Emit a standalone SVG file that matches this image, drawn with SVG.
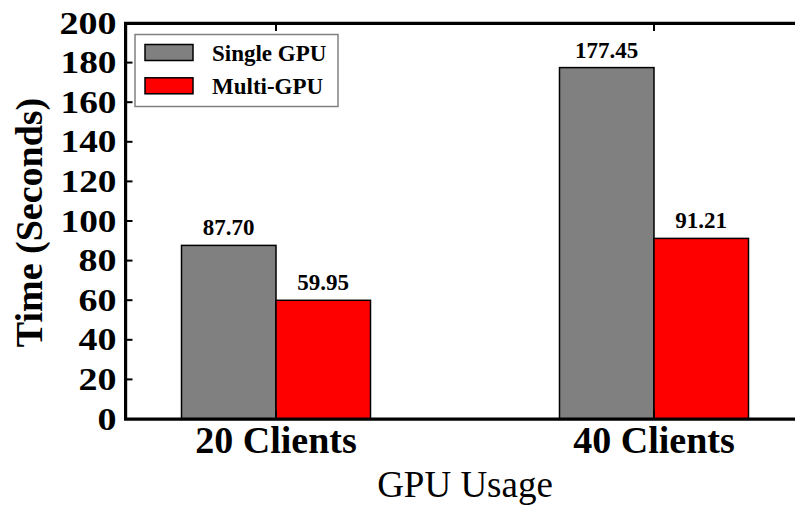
<svg xmlns="http://www.w3.org/2000/svg" width="795" height="507" viewBox="0 0 795 507">
  <style>
    .bold { font-family: "Liberation Serif", "Times New Roman", serif; font-weight: bold; fill: #000; }
    .reg { font-family: "Liberation Serif", "Times New Roman", serif; fill: #000; }
    .ytick { font-size: 30.5px; text-anchor: end; }
    .xtick { font-size: 38px; text-anchor: middle; }
    .val { font-size: 23px; text-anchor: middle; }
    .leg { font-size: 23px; }
    .single { fill: #808080; stroke: #000; stroke-width: 1.5; }
    .multi { fill: #ff0000; stroke: #000; stroke-width: 1.5; }
    .spine { stroke: #000; stroke-width: 3.2; fill: none; }
    .tick { stroke: #000; stroke-width: 2; }
  </style>

  <rect width="795" height="507" fill="#fff"/>

  <!-- bars: y = 419 - value * 1.98 -->
  <g id="bars">
    <g id="bar-20-single">
      <rect class="single" x="181.5" y="245.4" width="94.5" height="173.6"/>
      <text class="bold val" x="228.7" y="235">87.70</text>
    </g>
    <g id="bar-20-multi">
      <rect class="multi" x="276" y="300.3" width="94.5" height="118.7"/>
      <text class="bold val" x="323.2" y="290">59.95</text>
    </g>
    <g id="bar-40-single">
      <rect class="single" x="559.5" y="67.6" width="94.5" height="351.4"/>
      <text class="bold val" x="606.7" y="57.5">177.45</text>
    </g>
    <g id="bar-40-multi">
      <rect class="multi" x="654" y="238.4" width="94.5" height="180.6"/>
      <text class="bold val" x="701.2" y="227.5">91.21</text>
    </g>
  </g>

  <!-- axes frame (right side runs past the canvas) -->
  <g id="axes">
    <path class="spine" d="M800 23.3 H125.6 V419.2 H800"/>
    <g class="tick">
      <line x1="127" y1="379.4" x2="132.5" y2="379.4"/>
      <line x1="127" y1="339.8" x2="132.5" y2="339.8"/>
      <line x1="127" y1="300.2" x2="132.5" y2="300.2"/>
      <line x1="127" y1="260.6" x2="132.5" y2="260.6"/>
      <line x1="127" y1="221" x2="132.5" y2="221"/>
      <line x1="127" y1="181.4" x2="132.5" y2="181.4"/>
      <line x1="127" y1="141.8" x2="132.5" y2="141.8"/>
      <line x1="127" y1="102.2" x2="132.5" y2="102.2"/>
      <line x1="127" y1="62.6" x2="132.5" y2="62.6"/>
      <line x1="276" y1="24" x2="276" y2="31"/>
      <line x1="654" y1="24" x2="654" y2="31"/>
      <line x1="276" y1="418" x2="276" y2="411"/>
      <line x1="654" y1="418" x2="654" y2="411"/>
    </g>
  </g>

  <!-- y tick labels -->
  <g id="y-ticks" class="bold ytick">
    <text x="116.5" y="429.5" textLength="19" lengthAdjust="spacingAndGlyphs">0</text>
    <text x="116.5" y="389.9" textLength="38" lengthAdjust="spacingAndGlyphs">20</text>
    <text x="116.5" y="350.3" textLength="38" lengthAdjust="spacingAndGlyphs">40</text>
    <text x="116.5" y="310.7" textLength="38" lengthAdjust="spacingAndGlyphs">60</text>
    <text x="116.5" y="271.1" textLength="38" lengthAdjust="spacingAndGlyphs">80</text>
    <text x="116.5" y="231.5" textLength="56" lengthAdjust="spacingAndGlyphs">100</text>
    <text x="116.5" y="191.9" textLength="56" lengthAdjust="spacingAndGlyphs">120</text>
    <text x="116.5" y="152.3" textLength="56" lengthAdjust="spacingAndGlyphs">140</text>
    <text x="116.5" y="112.7" textLength="56" lengthAdjust="spacingAndGlyphs">160</text>
    <text x="116.5" y="73.1" textLength="56" lengthAdjust="spacingAndGlyphs">180</text>
    <text x="116.5" y="33.5" textLength="57" lengthAdjust="spacingAndGlyphs">200</text>
  </g>

  <!-- x tick labels -->
  <g id="x-ticks" class="bold xtick">
    <text x="276" y="453">20 Clients</text>
    <text x="654" y="453">40 Clients</text>
  </g>

  <!-- axis titles -->
  <text id="y-title" class="bold" font-size="38" text-anchor="middle" transform="translate(42 222.5) rotate(-90)">Time (Seconds)</text>
  <text id="x-title" class="reg" font-size="37" text-anchor="middle" x="465" y="497">GPU Usage</text>

  <!-- legend -->
  <g id="legend">
    <rect x="135" y="34.5" width="203" height="72" fill="#fff" stroke="#808080" stroke-width="1.5"/>
    <rect class="single" x="145" y="44.5" width="48" height="16"/>
    <text class="bold leg" x="212" y="60.5">Single GPU</text>
    <rect class="multi" x="145" y="77.8" width="48" height="16"/>
    <text class="bold leg" x="212" y="93.5">Multi-GPU</text>
  </g>
</svg>
